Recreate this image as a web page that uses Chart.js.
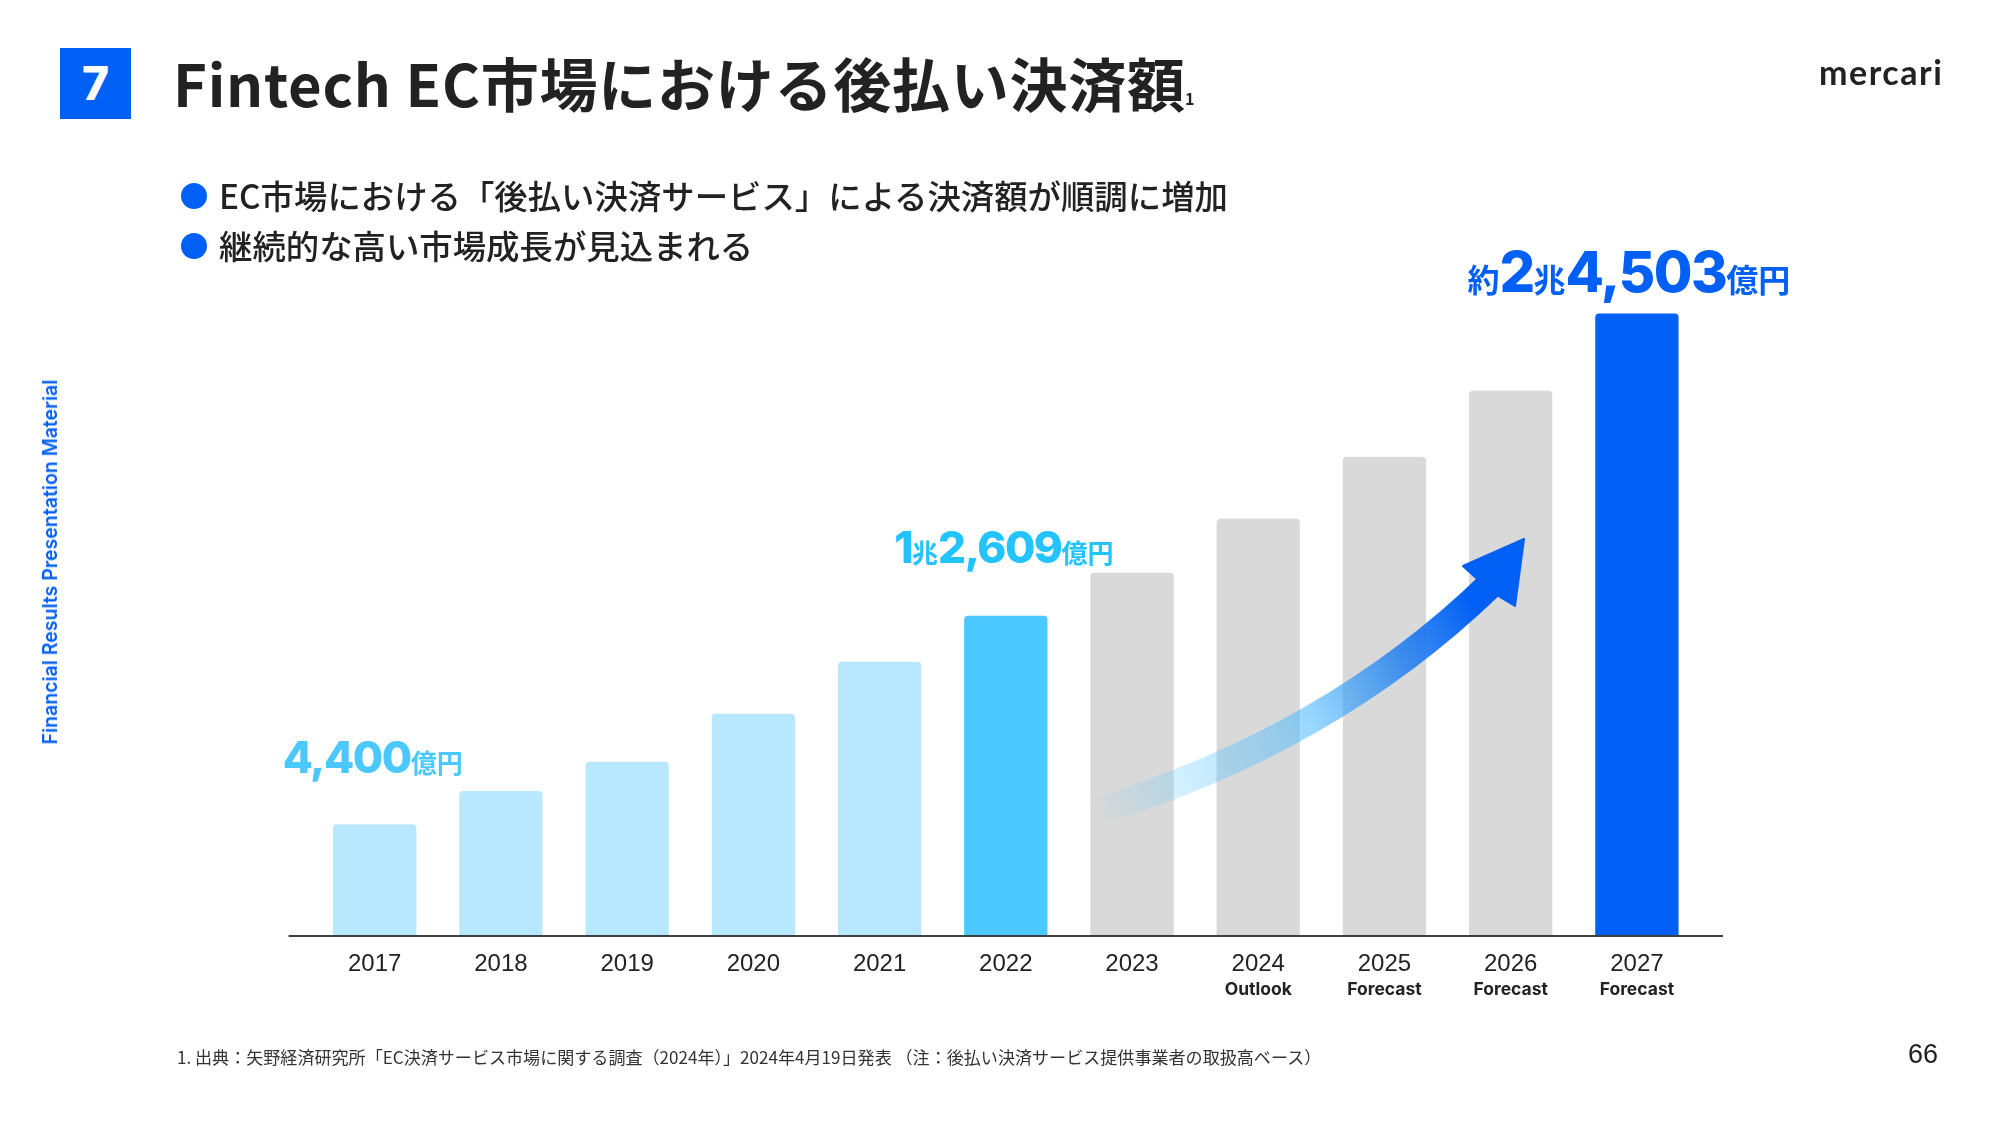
<!DOCTYPE html>
<html lang="ja">
<head>
<meta charset="utf-8">
<title>Fintech EC市場における後払い決済額</title>
<script src="https://cdn.jsdelivr.net/npm/chart.js@4"></script>
<style>
  html, body { margin: 0; padding: 0; background: #fff; }
  #page { position: relative; width: 2000px; height: 1125px; overflow: hidden; font-family: "Noto Sans CJK JP", sans-serif; color: #222; }
  #page div { position: absolute; white-space: nowrap; line-height: 1; }
  canvas { position: absolute; left: 0; top: 0; }
  #badge { left: 60px; top: 48px; width: 71px; height: 71px; background: #005ff5; color: #fff; font: 800 46px/71px Inter, sans-serif !important; text-align: center; }
  #title { left: 173px; top: 53px; font-size: 58px; font-weight: 700; letter-spacing: 0.75px; }
  #titleNote { left: 1185px; top: 90px; font-size: 16px; font-weight: 700; }
  .dot { left: 181px; width: 26px; height: 26px; border-radius: 50%; background: #005ff5; }
  .point { left: 219px; font-size: 33.4px; font-weight: 500; }
  #logo { left: 1819px; top: 51px; font: 700 34px Lato, sans-serif !important; letter-spacing: 1.5px; color: #222; }
  #side { left: 50px; top: 562px; font: 600 19.5px Inter, sans-serif !important; color: #005ff5; transform: translate(-50%, -50%) rotate(-90deg); }
  #note { left: 177px; top: 1048px; font-size: 17.07px; color: #333; }
  #pageNo { left: 1908px; top: 1039px; font: 27px "Liberation Sans", sans-serif !important; color: #222; }
</style>
</head>
<body>
<div id="page">
  <canvas id="chart" width="2000" height="1125"></canvas>
  <div id="badge">7</div>
  <div id="title">Fintech EC市場における後払い決済額</div>
  <div id="titleNote">1</div>
  <div class="dot" style="top:183px"></div>
  <div class="point" style="top:178px">EC市場における「後払い決済サービス」による決済額が順調に増加</div>
  <div class="dot" style="top:233px"></div>
  <div class="point" style="top:228px">継続的な高い市場成長が見込まれる</div>
  <div id="logo">mercari</div>
  <div id="side">Financial Results Presentation Material</div>
  <div id="note">1. 出典：矢野経済研究所「EC決済サービス市場に関する調査（2024年）」2024年4月19日発表 （注：後払い決済サービス提供事業者の取扱高ベース）</div>
  <div id="pageNo">66</div>
</div>
<script>
// データ (億円)
var years = ['2017', '2018', '2019', '2020', '2021', '2022', '2023', '2024', '2025', '2026', '2027'];
var subLabels = ['', '', '', '', '', '', '', 'Outlook', 'Forecast', 'Forecast', 'Forecast'];
var amounts = [4400, 5710, 6860, 8750, 10800, 12609, 14300, 16430, 18870, 21470, 24503];
var calloutBars = [0, 5, 10];
var calloutParts = [
    ['4,400', '億円'],
    ['1', '兆', '2,609', '億円'],
    ['約', '2', '兆', '4,503', '億円']
];

var BLUE = '#005ff5', SKY = '#4ac8ff', PALE = '#b8e8fd', GREY = '#d9d9d9';

function barColor(i) {
    if (i == 5) return SKY;
    if (i == 10) return BLUE;
    return i < 5 ? PALE : GREY;
}

// 吹き出しのサイズと位置
var calloutStyle = [
    { big: 44, small: 26, color: SKY, dx: -2, dy: -51 },
    { big: 44, small: 26, color: '#22c3ff', dx: -2, dy: -53 },
    { big: 56, small: 32, color: BLUE, dx: -8, dy: -22 }
];

var axisLine = {
    id: 'axisLine',
    afterDatasetsDraw: function (chart) {
        var c = chart.ctx, a = chart.chartArea;
        c.save();
        c.strokeStyle = '#3d4043';
        c.lineWidth = 2;
        c.beginPath();
        c.moveTo(a.left - 23, a.bottom);
        c.lineTo(a.right + 23, a.bottom);
        c.stroke();
        c.restore();
    }
};

// 成長の矢印
var growthArrow = {
    id: 'growthArrow',
    afterDatasetsDraw: function (chart) {
        var c = chart.ctx;
        var g = c.createLinearGradient(1095, 812, 1490, 585);
        g.addColorStop(0, 'rgba(74,200,255,0)');
        g.addColorStop(0.17, 'rgba(90,200,255,0.25)');
        g.addColorStop(0.5, 'rgba(74,185,255,0.55)');
        g.addColorStop(0.75, 'rgba(40,130,240,0.88)');
        g.addColorStop(0.95, BLUE);
        c.save();
        c.strokeStyle = g;
        c.lineWidth = 28;
        c.beginPath();
        c.moveTo(1095, 812);
        c.quadraticCurveTo(1330, 740, 1490, 585);
        c.stroke();
        c.fillStyle = BLUE;
        c.strokeStyle = BLUE;
        c.lineWidth = 2;
        c.lineJoin = 'round';
        c.beginPath();
        c.moveTo(1524, 539);
        c.lineTo(1463, 566);
        c.lineTo(1475, 577);
        c.lineTo(1500, 597);
        c.lineTo(1515, 606);
        c.closePath();
        c.fill();
        c.stroke();
        c.restore();
    }
};

var callouts = {
    id: 'callouts',
    afterDraw: function (chart) {
        var c = chart.ctx, bars = chart.getDatasetMeta(0).data;
        c.save();
        c.textBaseline = 'alphabetic';
        calloutBars.forEach(function (barIndex, n) {
            var s = calloutStyle[n], parts = calloutParts[n];
            var fonts = parts.map(function (p) {
                return /[0-9]/.test(p) ? '800 ' + s.big + 'px Inter' : '700 ' + s.small + 'px "Noto Sans CJK JP"';
            });
            var spacing = parts.map(function (p) { return /[0-9]/.test(p) ? '-1.5px' : '0px'; });
            var total = 0;
            parts.forEach(function (p, i) {
                c.font = fonts[i];
                c.letterSpacing = spacing[i];
                total += c.measureText(p).width;
            });
            var x = bars[barIndex].x + s.dx - total / 2, y = bars[barIndex].y + s.dy;
            c.fillStyle = s.color;
            parts.forEach(function (p, i) {
                c.font = fonts[i];
                c.letterSpacing = spacing[i];
                c.fillText(p, x, y);
                x += c.measureText(p).width;
            });
        });
        c.restore();
    }
};

new Chart(document.getElementById('chart').getContext('2d'), {
    type: 'bar',
    data: {
        labels: years,
        datasets: [{
            data: amounts,
            backgroundColor: years.map(function (y, i) { return barColor(i); }),
            barPercentage: 0.66,
            categoryPercentage: 1,
            borderRadius: { topLeft: 4, topRight: 4 }
        }]
    },
    options: {
        responsive: false,
        animation: false,
        layout: { padding: { left: 311.6, right: 300, top: 301, bottom: 0 } },
        plugins: { legend: { display: false }, tooltip: { enabled: false } },
        scales: {
            y: { display: false, min: 0, max: 25000 },
            x: {
                grid: { display: false, drawTicks: false },
                border: { display: false },
                ticks: { color: '#222', font: { family: 'Liberation Sans', size: 24 }, padding: 14, maxRotation: 0, autoSkip: false },
                afterFit: function (s) { s.height = 42; }
            },
            x2: {
                type: 'category',
                labels: subLabels,
                position: 'bottom',
                grid: { display: false, drawTicks: false },
                border: { display: false },
                ticks: { color: '#222', font: { family: 'Inter', size: 17.5, weight: '700' }, padding: 1, maxRotation: 0, autoSkip: false },
                afterFit: function (s) { s.height = 147; }
            }
        }
    },
    plugins: [axisLine, growthArrow, callouts]
});
</script>
</body>
</html>
